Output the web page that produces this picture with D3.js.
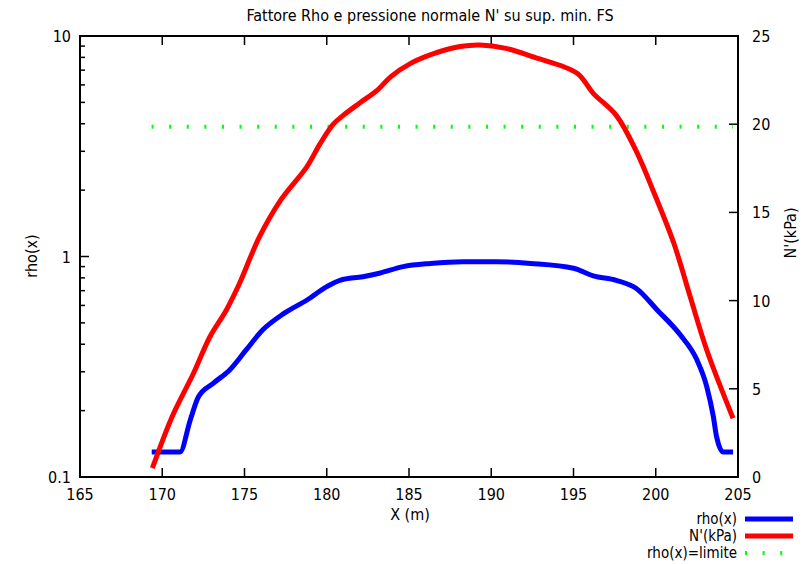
<!DOCTYPE html>
<html lang="en">
<head>
<meta charset="utf-8">
<title>Fattore Rho</title>
<script src="https://cdn.jsdelivr.net/npm/d3@7"></script>
<style>
  body { margin: 0; background: #fff; }
  text { font-family: "DejaVu Sans", "Liberation Sans", sans-serif; font-stretch: condensed; font-size: 16px; fill: #000; }
  .leg { font-size: 15px; }
</style>
</head>
<body>
<script type="text/javascript">
// rho(x) curve
var rhoX = [169.36, 171.08, 171.7, 172.2, 173.1, 174.1, 175.1, 176.1, 177.4, 178.8, 180.0, 180.8, 182.2, 183.2, 184.65, 186.3, 188.3, 190.3, 192.4, 195.0, 196.2, 197.6, 198.8, 200.1, 201.5, 202.5, 203.1, 203.5, 203.7, 204.1, 204.7];
var rhoY = [0.13, 0.13, 0.181, 0.231, 0.266, 0.306, 0.377, 0.464, 0.552, 0.635, 0.73, 0.78, 0.81, 0.84, 0.90, 0.93, 0.947, 0.947, 0.93, 0.884, 0.817, 0.78, 0.718, 0.571, 0.44, 0.34, 0.257, 0.188, 0.152, 0.13, 0.13];
// N'(kPa) curve
var nX = [169.4, 170.6, 171.9, 172.9, 173.9, 174.7, 175.9, 177.2, 178.8, 179.6, 180.4, 181.0, 182.0, 183.1, 183.9, 185.1, 186.5, 188.1, 189.3, 190.9, 192.6, 195.2, 196.2, 197.6, 198.8, 199.9, 201.1, 202.1, 203.1, 204.7];
var nY = [0.5, 3.42, 5.88, 7.95, 9.47, 10.98, 13.6, 15.7, 17.6, 18.9, 20.0, 20.5, 21.2, 21.95, 22.7, 23.45, 24.0, 24.4, 24.49, 24.3, 23.8, 22.9, 21.75, 20.5, 18.5, 16.1, 13.25, 10.2, 7.2, 3.33];
// rho limite
var limX = [169.35, 204.7];
var limY = [3.88, 3.88];

var xTicks = [165, 170, 175, 180, 185, 190, 195, 200, 205];
var yTicks = [0.1, 1, 10];
var y2Ticks = [0, 5, 10, 15, 20, 25];

var W = 807, H = 564;
var L = 80, R = 738, T = 36, B = 477;

var svg = d3.select('body').append('svg').attr('width', W).attr('height', H);

var x = d3.scaleLinear().domain([165, 205]).range([L, R]);
var y = d3.scaleLog().domain([0.1, 10]).range([B, T]);
var y2 = d3.scaleLinear().domain([0, 25]).range([B, T]);

// minor log ticks
var minor = [];
[0.1, 1].forEach(function (d) {
    for (var k = 2; k <= 9; k++) minor.push(d * k);
});

var axisG = svg.append('g').attr('stroke', '#000').attr('stroke-width', 1.5);
// x ticks bottom + top (inside)
xTicks.forEach(function (t) {
    axisG.append('line').attr('x1', x(t)).attr('x2', x(t)).attr('y1', B).attr('y2', B - 9);
    axisG.append('line').attr('x1', x(t)).attr('x2', x(t)).attr('y1', T).attr('y2', T + 9);
});
// left y major/minor
yTicks.forEach(function (t) {
    axisG.append('line').attr('x1', L).attr('x2', L + 9).attr('y1', y(t)).attr('y2', y(t));
});
minor.forEach(function (t) {
    axisG.append('line').attr('x1', L).attr('x2', L + 5).attr('y1', y(t)).attr('y2', y(t));
});
// right y2 ticks
y2Ticks.forEach(function (t) {
    axisG.append('line').attr('x1', R).attr('x2', R - 9).attr('y1', y2(t)).attr('y2', y2(t));
});

// tick labels
svg.selectAll('.xl').data(xTicks).enter().append('text')
    .attr('x', function (d) { return x(d); }).attr('y', 500)
    .attr('text-anchor', 'middle').text(function (d) { return d; });
svg.selectAll('.yl').data(yTicks).enter().append('text')
    .attr('x', L - 9).attr('y', function (d) { return y(d) + 6; })
    .attr('text-anchor', 'end').text(function (d) { return d; });
svg.selectAll('.y2l').data(y2Ticks).enter().append('text')
    .attr('x', R + 14).attr('y', function (d) { return y2(d) + 6; })
    .attr('text-anchor', 'start').text(function (d) { return d; });

// titles
svg.append('text').attr('x', 430).attr('y', 21).attr('text-anchor', 'middle')
    .text("Fattore Rho e pressione normale N' su sup. min. FS");
svg.append('text').attr('x', 410).attr('y', 520).attr('text-anchor', 'middle').text('X (m)');
svg.append('text').attr('transform', 'translate(37,256) rotate(-90)').attr('text-anchor', 'middle').text('rho(x)');
svg.append('text').attr('transform', 'translate(796,233) rotate(-90)').attr('text-anchor', 'middle').text("N'(kPa)");

// curves
var clip = svg.append('clipPath').attr('id', 'clip').append('rect')
    .attr('x', L).attr('y', T).attr('width', R - L).attr('height', B - T);
var plot = svg.append('g').attr('clip-path', 'url(#clip)');

var lineRho = d3.line().x(function (d) { return x(d[0]); }).y(function (d) { return y(d[1]); }).curve(d3.curveMonotoneX);
var lineN = d3.line().x(function (d) { return x(d[0]); }).y(function (d) { return y2(d[1]); }).curve(d3.curveCatmullRom.alpha(0.5));

plot.append('path').datum(d3.zip(limX, limY)).attr('d', lineRho)
    .attr('fill', 'none').attr('stroke', '#00ff00').attr('stroke-width', 4).attr('stroke-dasharray', '2,15.6');
plot.append('path').datum(d3.zip(rhoX, rhoY)).attr('d', lineRho)
    .attr('fill', 'none').attr('stroke', '#0000ff').attr('stroke-width', 5).attr('stroke-linejoin', 'round');
plot.append('path').datum(d3.zip(nX, nY)).attr('d', lineN)
    .attr('fill', 'none').attr('stroke', '#ff0000').attr('stroke-width', 5).attr('stroke-linejoin', 'round');

// frame
svg.append('rect').attr('x', L).attr('y', T).attr('width', R - L).attr('height', B - T)
    .attr('fill', 'none').attr('stroke', '#000').attr('stroke-width', 2);

// legend
var legend = [
    { name: 'rho(x)', color: '#0000ff', dash: null, w: 5 },
    { name: "N'(kPa)", color: '#ff0000', dash: null, w: 5 },
    { name: 'rho(x)=limite', color: '#00ff00', dash: '2,15.6', w: 4 }
];
var lg = svg.append('g');
legend.forEach(function (d, i) {
    var ly = 519 + i * 17;
    lg.append('text').attr('class', 'leg').attr('x', 737).attr('y', ly + 5).attr('text-anchor', 'end').text(d.name);
    lg.append('line').attr('x1', 745).attr('x2', 793).attr('y1', ly).attr('y2', ly)
        .attr('stroke', d.color).attr('stroke-width', d.w)
        .attr('stroke-dasharray', d.dash);
});
</script>
</body>
</html>
